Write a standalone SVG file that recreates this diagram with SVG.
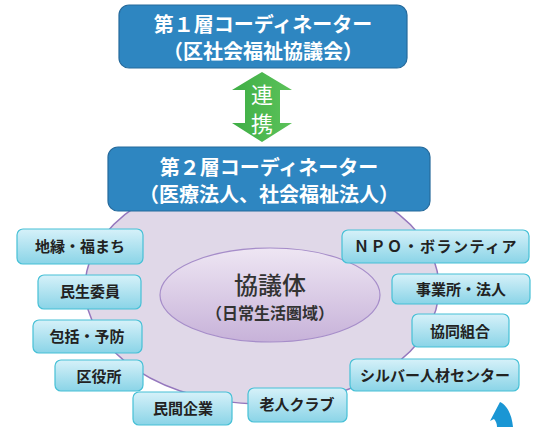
<svg xmlns="http://www.w3.org/2000/svg" width="534" height="427" viewBox="0 0 534 427">
<defs>
<linearGradient id="cy" x1="0" y1="0" x2="0" y2="1"><stop offset="0" stop-color="#d6f1f9"/><stop offset="1" stop-color="#8ad4e7"/></linearGradient>
<linearGradient id="inner" x1="0" y1="0" x2="0" y2="1"><stop offset="0" stop-color="#eee6f3"/><stop offset="1" stop-color="#c7b2d9"/></linearGradient>
<linearGradient id="gr" x1="0" y1="0" x2="1" y2="0"><stop offset="0" stop-color="#3eae45"/><stop offset="1" stop-color="#5cc25a"/></linearGradient>
<style>
.blue{fill:#2e86c1;stroke:#256a9c;stroke-width:1.2}
.bt{fill:#fff;font-family:"Noto Sans CJK JP","Noto Sans",sans-serif;font-weight:700;font-size:20px;text-anchor:middle}
.sb{fill:url(#cy);stroke:#46c0d6;stroke-width:1.2}
.st{fill:#222;font-family:"Noto Sans CJK JP","Noto Sans",sans-serif;font-weight:700;font-size:15px;text-anchor:middle}
.ct{fill:#333;font-family:"Noto Sans CJK JP","Noto Sans",sans-serif;text-anchor:middle}
</style>
</defs>
<rect width="534" height="427" fill="#fff"/>
<g id="big-area">
<ellipse cx="262" cy="288" rx="177" ry="116" fill="#e0d8e8" stroke="#9577bd" stroke-width="1.5"/>
</g>
<g id="kyogitai">
<ellipse cx="270" cy="295" rx="110" ry="47" fill="url(#inner)" stroke="#a68dc9" stroke-width="1.2"/>
<text class="ct" x="270" y="294" font-size="24" font-weight="500">協議体</text>
<text class="ct" x="270" y="319" font-size="16" font-weight="700">（日常生活圏域）</text>
</g>
<g id="connectors">
<path d="M262,72 L292,90 L280,90 L280,123 L292,123 L262,142 L232,123 L245,123 L245,90 L232,90 Z" fill="url(#gr)"/>
<text x="262" y="103" fill="#fff" font-family="Noto Sans CJK JP,sans-serif" font-size="22" text-anchor="middle">連</text>
<text x="262" y="132" fill="#fff" font-family="Noto Sans CJK JP,sans-serif" font-size="22" text-anchor="middle">携</text>
</g>
<g id="layer1">
<rect class="blue" x="119" y="5" width="288" height="63" rx="10"/>
<text class="bt" x="263" y="32">第１層コーディネーター</text>
<text class="bt" x="263" y="59">（区社会福祉協議会）</text>
</g>
<g id="layer2">
<rect class="blue" x="108" y="147" width="322" height="64" rx="10"/>
<text class="bt" x="269" y="175" font-size="19.5">第２層コーディネーター</text>
<text class="bt" x="269" y="202" font-size="19">（医療法人、社会福祉法人）</text>
</g>
<g id="n1"><rect class="sb" x="17" y="229" width="126" height="35" rx="6"/><text class="st" x="80" y="252">地縁・福まち</text></g>
<g id="n2"><rect class="sb" x="38" y="275" width="103" height="34" rx="6"/><text class="st" x="90" y="297">民生委員</text></g>
<g id="n3"><rect class="sb" x="33" y="320" width="109" height="33" rx="6"/><text class="st" x="87" y="342">包括・予防</text></g>
<g id="n4"><rect class="sb" x="55" y="360" width="88" height="31" rx="6"/><text class="st" x="99" y="382" font-size="18">区役所</text></g>
<g id="n5"><rect class="sb" x="133" y="392" width="99" height="33" rx="6"/><text class="st" x="183" y="414">民間企業</text></g>
<g id="n6"><rect class="sb" x="248" y="388" width="99" height="34" rx="6"/><text class="st" x="297" y="410">老人クラブ</text></g>
<g id="n7"><rect class="sb" x="350" y="359" width="169" height="32" rx="6"/><text class="st" x="435" y="381">シルバー人材センター</text></g>
<g id="n8"><rect class="sb" x="412" y="314" width="97" height="33" rx="6"/><text class="st" x="460" y="337" font-size="17.5">協同組合</text></g>
<g id="n9"><rect class="sb" x="392" y="274" width="138" height="30" rx="6"/><text class="st" x="461" y="295">事業所・法人</text></g>
<g id="n10"><rect class="sb" x="342" y="230" width="187" height="33" rx="6"/><text class="st" x="436" y="252" letter-spacing="1.5">ＮＰＯ・ボランティア</text></g>
<g id="blue-arrow"><path d="M500,402 C507,405 512,415 513,427 L497,427 C497,424 496,421 494,419 L490,421 Z" fill="#1a96d4"/></g>
</svg>
